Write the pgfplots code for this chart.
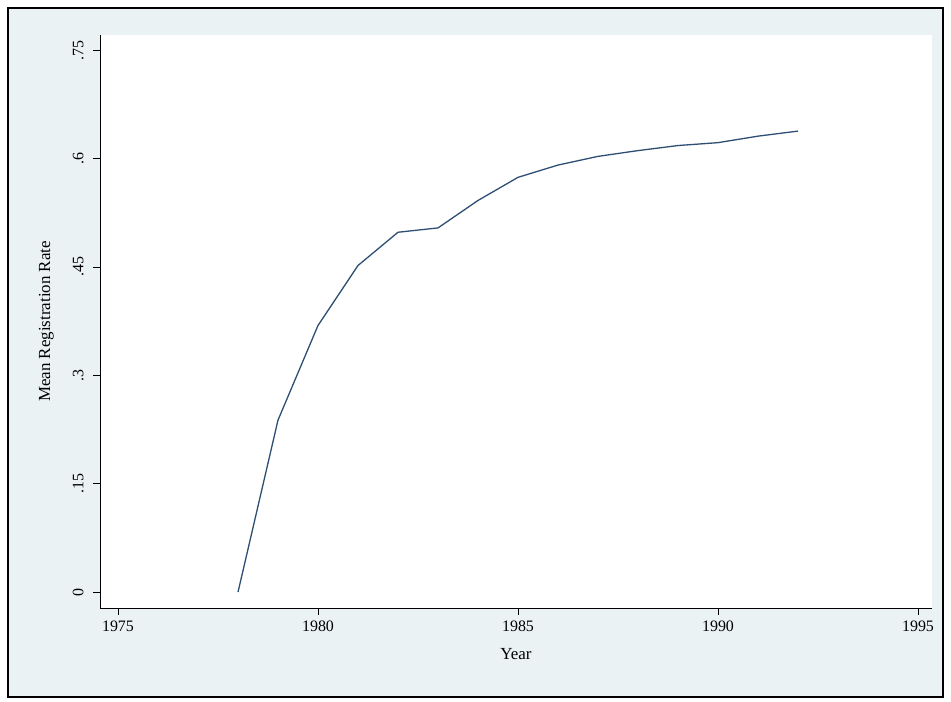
\documentclass[border=0pt]{standalone}
\usepackage{pgfplots}
\pgfplotsset{compat=1.18}
\usepackage{fontspec}
\setmainfont{Liberation Serif}
\definecolor{bgc}{HTML}{EAF2F3}
\definecolor{ln}{HTML}{2E4F73}
\begin{document}
\begin{tikzpicture}[x=1bp,y=1bp]
\path[fill=white] (-100,-94) rectangle (851,608);
\draw[line width=1.5bp,fill=bgc] (-92,-89) rectangle (843,600);
\begin{axis}[
  scale only axis, width=832bp, height=573bp,
  axis background/.style={fill=white},
  axis x line*=bottom, axis y line*=left,
  xmin=1974.55, xmax=1995.35, ymin=-0.022, ymax=0.771,
  xtick={1975,1980,1985,1990,1995},
  xticklabels={1975,1980,1985,1990,1995},
  ytick={0,0.15,0.3,0.45,0.6,0.75},
  yticklabels={0,.15,.3,.45,.6,.75},
  yticklabel style={rotate=90,anchor=south,yshift=6bp},
  xticklabel style={yshift=-2bp},
  tick align=outside, major tick length=7bp,
  tick style={black,line width=0.6bp},
  axis line style={black,line width=0.8bp},
  ticklabel style={font=\fontsize{16}{16}\selectfont},
  xlabel={Year}, ylabel={Mean Registration Rate},
  label style={font=\fontsize{17}{17}\selectfont},
  xlabel style={yshift=-10bp}, ylabel style={yshift=12bp},
  every axis plot/.append style={line width=1.3bp, color=ln},
]
\addplot[mark=none] coordinates {
(1978,0) (1979,0.238) (1980,0.369) (1981,0.452) (1982,0.498) (1983,0.504)
(1984,0.542) (1985,0.574) (1986,0.591) (1987,0.603) (1988,0.611) (1989,0.618)
(1990,0.622) (1991,0.631) (1992,0.638)};
\end{axis}
\end{tikzpicture}
\end{document}
